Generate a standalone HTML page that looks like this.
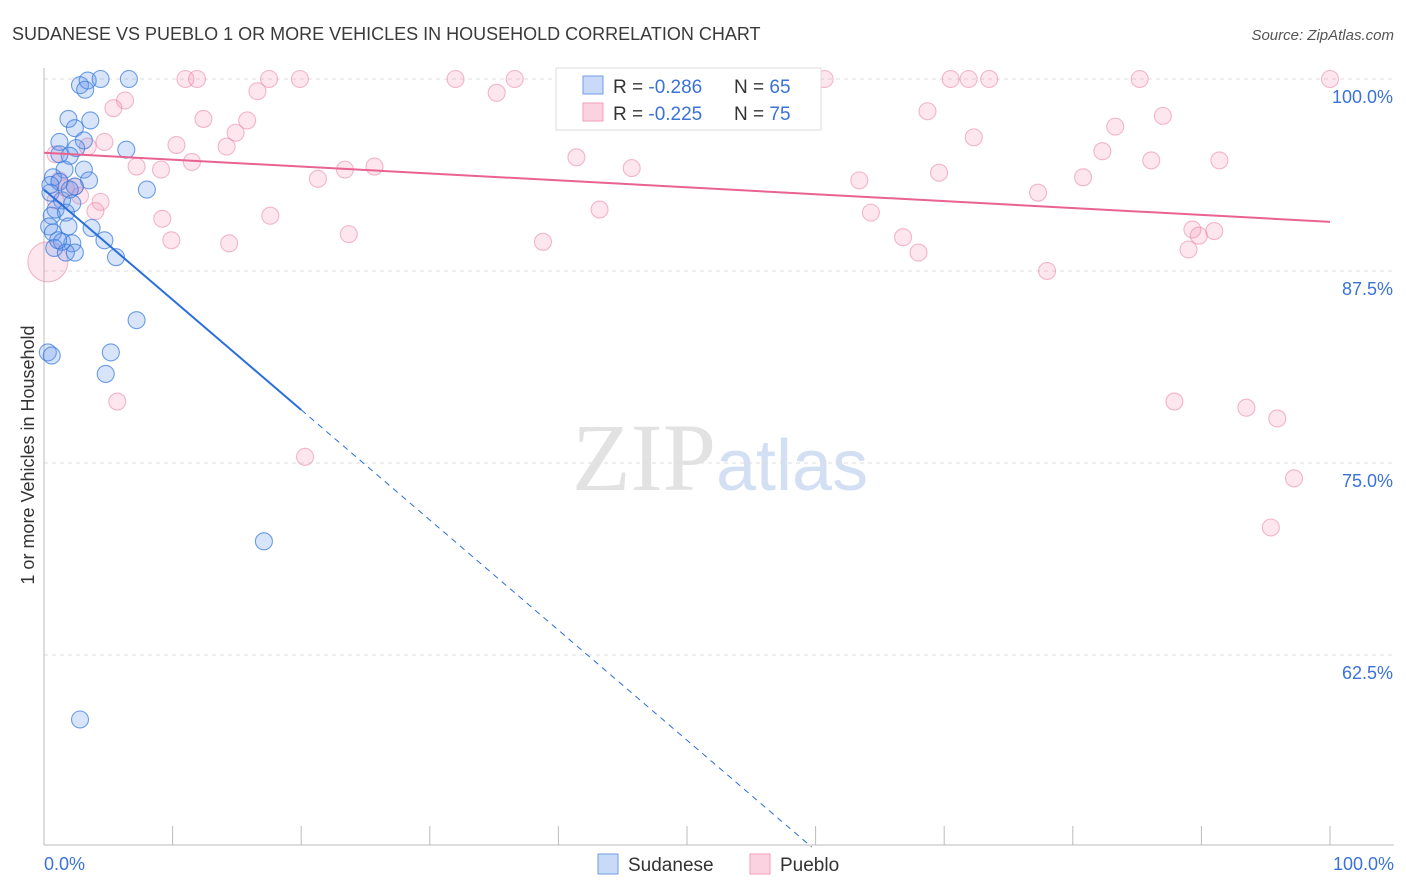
<!DOCTYPE html>
<html><head><meta charset="utf-8"><style>
body{margin:0;background:#fff;font-family:"Liberation Sans",sans-serif;}
#wrap{position:relative;width:1406px;height:892px;overflow:hidden}
</style></head><body>
<div id="wrap">
<svg id="svg" width="1406" height="892" xmlns="http://www.w3.org/2000/svg">
<text x="12" y="40" font-size="18" fill="#3a3a3a">SUDANESE VS PUEBLO 1 OR MORE VEHICLES IN HOUSEHOLD CORRELATION CHART</text>
<text x="1394" y="40" font-size="15" fill="#555" font-style="italic" text-anchor="end">Source: ZipAtlas.com</text>
<text x="716" y="490" font-size="96" fill="#e2e2e2" text-anchor="end" font-family="Liberation Serif">ZIP</text>
<text x="716" y="490" font-size="72" fill="#d3e0f4">atlas</text>
<text transform="translate(34,455) rotate(-90)" font-size="18" fill="#333" text-anchor="middle">1 or more Vehicles in Household</text>
<g id="grid"></g><g id="marks"></g>
<g>
<rect x="556" y="68" width="265" height="62" fill="#fff" stroke="#ddd"/>
<rect x="583" y="76" width="20" height="18" fill="rgba(100,149,237,0.35)" stroke="#6f9de6"/>
<text x="613" y="93" font-size="19" fill="#333">R = <tspan fill="#3a72d8">-0.286</tspan></text>
<text x="734" y="93" font-size="19" fill="#333">N = <tspan fill="#3a72d8">65</tspan></text>
<rect x="583" y="103" width="20" height="18" fill="rgba(244,143,177,0.4)" stroke="#f0a0bc"/>
<text x="613" y="120" font-size="19" fill="#333">R = <tspan fill="#3a72d8">-0.225</tspan></text>
<text x="734" y="120" font-size="19" fill="#333">N = <tspan fill="#3a72d8">75</tspan></text>
</g>
<g>
<rect x="598" y="854" width="20" height="20" fill="rgba(100,149,237,0.35)" stroke="#6f9de6"/>
<text x="628" y="871" font-size="19" fill="#333">Sudanese</text>
<rect x="750" y="854" width="20" height="20" fill="rgba(244,143,177,0.4)" stroke="#f0a0bc"/>
<text x="780" y="871" font-size="19" fill="#333">Pueblo</text>
</g>
<text x="44" y="870" font-size="18" fill="#3a72d8">0.0%</text>
<text x="1394" y="870" font-size="18" fill="#3a72d8" text-anchor="end">100.0%</text>
</svg></div>
<script>
const yTicks=[100,87.5,75,62.5];
const yTickLabels=["100.0%","87.5%","75.0%","62.5%"];
const sudX=[2.8,3.4,4.4,6.6,3.2,1.9,3.6,2.4,1.2,3.1,2.5,6.4,2.0,1.2,1.6,3.1,0.7,1.2,3.5,2.4,8.0,0.5,1.4,2.2,0.9,1.7,0.6,0.4,1.9,3.7,0.7,4.7,1.4,2.2,0.8,1.7,2.4,5.6,7.2,0.3,0.6,5.2,4.8,17.1,2.8,0.5,1.1,2.0];
const sudY=[99.6,99.9,100,100,99.3,97.4,97.3,96.8,95.9,96.0,95.5,95.4,95.0,95.1,94.1,94.1,93.6,93.3,93.4,93.0,92.8,92.6,92.1,91.9,91.5,91.3,91.1,90.4,90.4,90.3,90.0,89.5,89.4,89.3,89.0,88.7,88.7,88.4,84.3,82.2,82.0,82.2,80.8,69.9,58.3,93.1,89.5,92.8];
const pueX=[0.3,11.0,11.9,17.5,19.9,32.0,36.6,47.0,59.6,60.7,70.5,71.9,73.5,85.2,100,6.3,5.4,16.6,35.2,12.4,14.9,15.8,68.7,87.0,83.3,72.3,4.7,10.3,14.2,3.4,0.9,7.2,9.1,11.5,23.4,25.7,41.4,45.7,82.3,86.1,91.4,69.6,63.4,80.8,21.3,77.3,2.4,2.8,4.4,4.0,43.2,17.6,64.3,9.2,9.9,14.4,23.7,38.8,66.8,89.3,91.0,89.8,68.0,89.0,78.0,5.7,20.3,87.9,93.5,95.9,97.2,95.4,1.2,1.7,0.9];
const pueY=[88.1,100,100,100,100,100,100,100,100,100,100,100,100,100,100,98.6,98.1,99.2,99.1,97.4,96.5,97.3,97.9,97.6,96.9,96.2,95.9,95.7,95.6,95.6,95.1,94.3,94.1,94.6,94.1,94.3,94.9,94.2,95.3,94.7,94.7,93.9,93.4,93.6,93.5,92.6,93.0,92.4,92.0,91.4,91.5,91.1,91.3,90.9,89.5,89.3,89.9,89.4,89.7,90.2,90.1,89.8,88.7,88.9,87.5,79.0,75.4,79.0,78.6,77.9,74.0,70.8,93.4,92.9,92.1];
const sudTrend=[92.8,21.1];
const pueTrend=[95.2,90.7];
const sx=v=>44+v*12.86;
const sy=v=>79+(100-v)*15.36;
const NS="http://www.w3.org/2000/svg";
function mk(tag,attrs,parent){const e=document.createElementNS(NS,tag);for(const k in attrs)e.setAttribute(k,attrs[k]);parent.appendChild(e);return e;}
const grid=document.getElementById('grid'),marks=document.getElementById('marks');
yTicks.forEach((t,i)=>{
 const l=mk('line',{x1:44,x2:1394,y1:sy(t),y2:sy(t),stroke:'#ddd','stroke-dasharray':'4,4'},grid);
 
 
 const tx=mk('text',{x:1393,y:sy(t)+24,'font-size':18,fill:'#3a72d8','text-anchor':'end'},grid);
 tx.textContent=yTickLabels[i];
 
 
});
const ax=mk('line',{x1:44,x2:44,y1:68,y2:845,stroke:'#bbb'},grid);


const bx=mk('line',{x1:44,x2:1394,y1:845,y2:845,stroke:'#bbb'},grid);


for(let i=0;i<=10;i++){
 const t=mk('line',{x1:sx(i*10),x2:sx(i*10),y1:826,y2:845,stroke:'#bbb'},grid);
 
 
}
function pts(X,Y,fill,stroke,name,bigIdx){
 X.forEach((x,i)=>{
  const c=mk('circle',{cx:sx(x),cy:sy(Y[i]),r:(i===bigIdx?20:8.5),fill:fill,stroke:stroke,'stroke-width':1.1},marks);
  
  
 });
}
pts(pueX,pueY,'rgba(244,143,177,0.22)','rgba(232,130,165,0.55)','pueblo-point',0);
pts(sudX,sudY,'rgba(100,149,237,0.25)','rgba(50,120,220,0.7)','sudanese-point',-1);
const f=(tr,x)=>tr[0]+(tr[1]-tr[0])*x/100;
const bl=mk('line',{x1:sx(0),y1:sy(f(sudTrend,0)),x2:sx(20),y2:sy(f(sudTrend,20)),stroke:'#2a6fdb','stroke-width':2},marks);


const xEnd=(50-sudTrend[0])/(sudTrend[1]-sudTrend[0])*100;
const bd=mk('line',{x1:sx(20),y1:sy(f(sudTrend,20)),x2:sx(xEnd),y2:sy(f(sudTrend,xEnd)),stroke:'#2a6fdb','stroke-width':1,'stroke-dasharray':'6,5'},marks);


const pl=mk('line',{x1:sx(0),y1:sy(pueTrend[0]),x2:sx(100),y2:sy(pueTrend[1]),stroke:'#e8638f','stroke-width':2},marks);


</script>
</body></html>
